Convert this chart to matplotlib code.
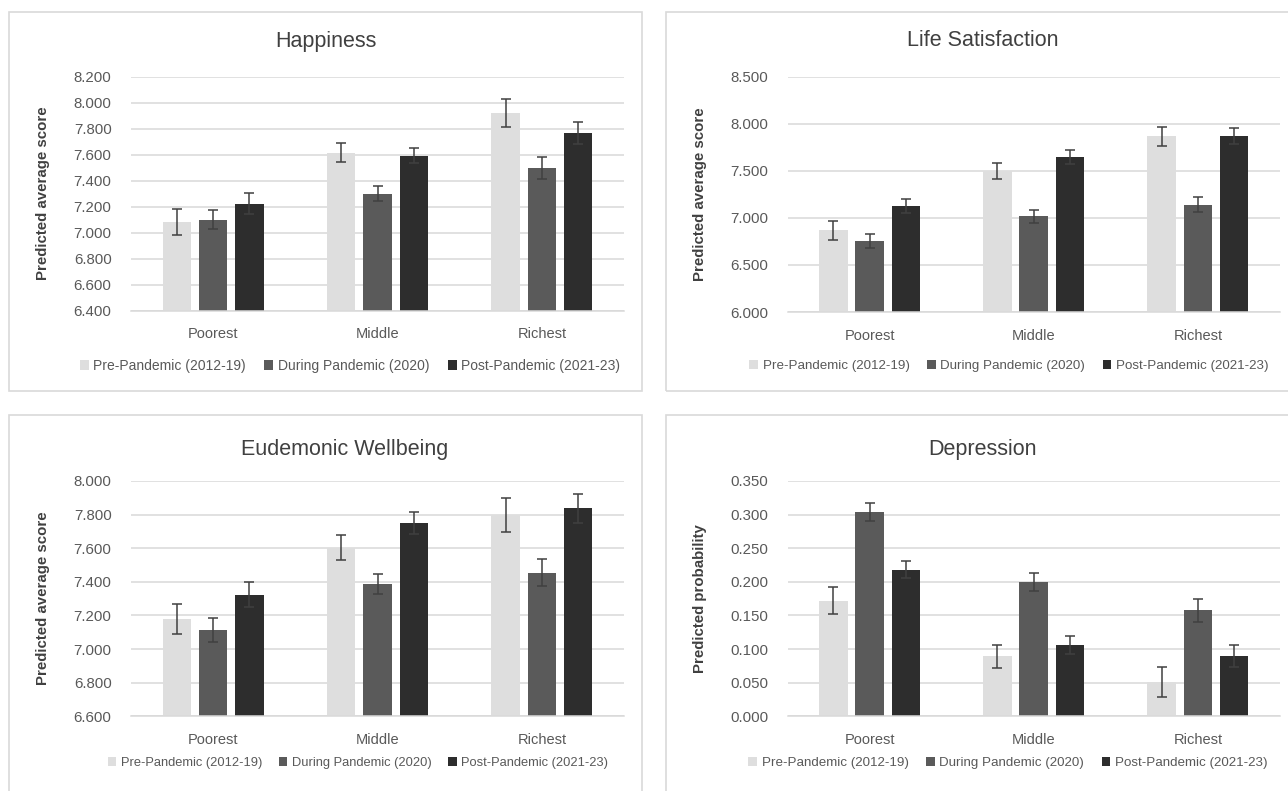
import numpy as np
import matplotlib
matplotlib.use("Agg")
import matplotlib.pyplot as plt
from matplotlib.patches import Rectangle

plt.rcParams['font.family'] = ['Liberation Sans', 'DejaVu Sans']

groups = ["Poorest", "Middle", "Richest"]
periods = ["Pre-Pandemic (2012-19)", "During Pandemic (2020)", "Post-Pandemic (2021-23)"]
colors = ["#DEDEDE", "#5A5A5A", "#2D2D2D"]

happiness_pre = [7.081, 7.616, 7.917]
happiness_pre_err = [0.100, 0.070, 0.108]
happiness_during = [7.100, 7.300, 7.498]
happiness_during_err = [0.075, 0.060, 0.083]
happiness_post = [7.223, 7.590, 7.768]
happiness_post_err = [0.083, 0.058, 0.086]

life_pre = [6.866, 7.499, 7.867]
life_pre_err = [0.100, 0.085, 0.100]
life_during = [6.750, 7.015, 7.142]
life_during_err = [0.075, 0.065, 0.078]
life_post = [7.128, 7.648, 7.867]
life_post_err = [0.071, 0.073, 0.083]

eud_pre = [7.179, 7.603, 7.798]
eud_pre_err = [0.088, 0.076, 0.100]
eud_during = [7.114, 7.385, 7.455]
eud_during_err = [0.070, 0.060, 0.082]
eud_post = [7.324, 7.750, 7.839]
eud_post_err = [0.074, 0.063, 0.086]

dep_pre = [0.172, 0.089, 0.051]
dep_pre_err = [0.020, 0.017, 0.022]
dep_during = [0.304, 0.200, 0.158]
dep_during_err = [0.014, 0.0135, 0.017]
dep_post = [0.218, 0.106, 0.090]
dep_post_err = [0.013, 0.014, 0.0166]

W, H = 1288, 791
fig = plt.figure(figsize=(W / 100, H / 100), dpi=100)

def px_rect(x0, y0, x1, y1):
  # pixel box (top-left origin) -> figure fraction
  return [x0 / W, 1 - y1 / H, (x1 - x0) / W, (y1 - y0) / H]

# chart frames
for (x0, y0, x1, y1) in [(9, 12, 642, 391), (666, 12, 1300, 391), (9, 415, 642, 800), (666, 415, 1300, 800)]:
  fig.patches.append(Rectangle((x0 / W, 1 - y1 / H), (x1 - x0) / W, (y1 - y0) / H,
                               transform=fig.transFigure, fill=False, edgecolor="#D9D9D9", linewidth=1.2))

def panel(box, title, title_xy, ylabel, ylabel_x, series, errs, yticks, legend_xy, legend_fs):
  ax = fig.add_axes(px_rect(*box))
  x = np.arange(len(groups))
  width, pitch = 0.174, 0.221
  for i in range(3):
    ax.bar(x + (i - 1) * pitch, series[i], width, color=colors[i], label=periods[i], zorder=2,
           yerr=errs[i], error_kw=dict(ecolor="#404040", elinewidth=1.1, capsize=3.5, capthick=1.1))
  ax.set_xlim(-0.5, 2.5)
  ax.set_ylim(yticks[0], yticks[-1])
  ax.set_yticks(yticks)
  ax.set_yticklabels([f"{t:.3f}" for t in yticks], fontsize=10.8, color="#595959")
  ax.set_xticks(x)
  ax.set_xticklabels(groups, fontsize=10.5, color="#595959")
  ax.tick_params(axis="y", length=0, pad=14)
  ax.tick_params(axis="x", length=0, pad=12)
  ax.yaxis.grid(True, color="#D9D9D9", linewidth=1.1, zorder=0)
  ax.set_axisbelow(True)
  for s in ["top", "right", "left"]:
    ax.spines[s].set_visible(False)
  ax.spines["bottom"].set_color("#D9D9D9")
  ax.spines["bottom"].set_linewidth(1.1)
  fig.text(title_xy[0] / W, 1 - title_xy[1] / H, title, fontsize=15.5, color="#404040",
           ha="center", va="center")
  cy = (box[1] + box[3]) / 2
  fig.text(ylabel_x / W, 1 - cy / H, ylabel, fontsize=10.8, fontweight="bold", color="#404040",
           rotation=90, ha="center", va="center")
  ax.legend(loc="center", bbox_to_anchor=(legend_xy[0] / W, 1 - legend_xy[1] / H),
            bbox_transform=fig.transFigure, ncol=3, frameon=False, fontsize=legend_fs,
            handlelength=0.65, handleheight=0.65, handletextpad=0.35, columnspacing=1.3,
            labelcolor="#595959")
  return ax

panel((131, 76.7, 624, 310.5), "Happiness", (326, 41), "Predicted average score", 43,
      [happiness_pre, happiness_during, happiness_post],
      [happiness_pre_err, happiness_during_err, happiness_post_err],
      np.arange(6.4, 8.2001, 0.2), (350, 366), 10.0)

panel((787.5, 76.7, 1280, 312), "Life Satisfaction", (983, 41), "Predicted average score", 700,
      [life_pre, life_during, life_post],
      [life_pre_err, life_during_err, life_post_err],
      np.arange(6.0, 8.5001, 0.5), (1009, 366), 9.6)

panel((131, 481, 624, 716.3), "Eudemonic Wellbeing", (345, 449), "Predicted average score", 43,
      [eud_pre, eud_during, eud_post],
      [eud_pre_err, eud_during_err, eud_post_err],
      np.arange(6.6, 8.0001, 0.2), (358, 763), 9.3)

panel((787.5, 481, 1280, 716.3), "Depression", (983, 449), "Predicted probability", 700,
      [dep_pre, dep_during, dep_post],
      [dep_pre_err, dep_during_err, dep_post_err],
      np.arange(0.0, 0.3501, 0.05), (1008, 763), 9.6)

fig.savefig("out.png", dpi=100)
